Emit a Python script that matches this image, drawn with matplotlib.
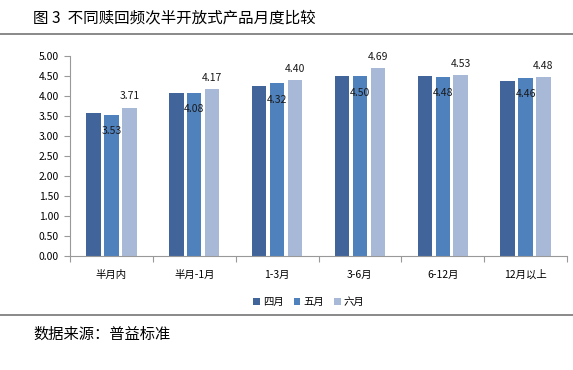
import matplotlib
matplotlib.use("Agg")
import matplotlib.pyplot as plt
from matplotlib.lines import Line2D
import numpy as np

plt.rcParams['font.family'] = ['Noto Sans CJK SC', 'DejaVu Sans']

categories = ["半月内", "半月-1月", "1-3月", "3-6月", "6-12月", "12月以上"]
series = ["四月", "五月", "六月"]
april = [3.58, 4.07, 4.26, 4.50, 4.49, 4.37]
may = [3.53, 4.08, 4.32, 4.50, 4.48, 4.46]
june = [3.71, 4.17, 4.40, 4.69, 4.53, 4.48]
yticks = [0, 0.5, 1.0, 1.5, 2.0, 2.5, 3.0, 3.5, 4.0, 4.5, 5.0]

colors = ["#41659A", "#4F81BD", "#A8B9D8"]

W, H = 573, 370
fig = plt.figure(figsize=(W / 100, H / 100), dpi=100)
ax = fig.add_axes([70 / W, (H - 256) / H, (567 - 70) / W, 200 / H])

x = np.arange(len(categories))
step = 0.217
bw = 0.175
for i, (vals, name) in enumerate(zip([april, may, june], series)):
    ax.bar(x + (i - 1) * step, vals, width=bw, color=colors[i], label=name, zorder=2)

for xi, v in zip(x, may):
    ax.annotate("%.2f" % v, (xi, v), xytext=(0, -12), textcoords="offset points",
                ha="center", va="center", fontsize=7.5, color="#1a1a1a")
for xi, v in zip(x, june):
    ax.annotate("%.2f" % v, (xi + step, v), xytext=(0, 8), textcoords="offset points",
                ha="center", va="center", fontsize=7.5, color="#1a1a1a")

ax.set_xlim(-0.5, len(categories) - 0.5)
ax.set_ylim(0, 5)
ax.set_yticks(yticks)
ax.set_yticklabels(["%.2f" % t for t in yticks], fontsize=7.5)
ax.set_xticks(np.arange(len(categories) + 1) - 0.5)
ax.set_xticklabels([])
ax.set_xticks(x, minor=True)
ax.set_xticklabels(categories, minor=True, fontsize=7.5)
ax.tick_params(axis="x", which="minor", length=0, pad=10)
ax.tick_params(axis="x", which="major", length=4, color="#999999", direction="out")
ax.tick_params(axis="y", length=4, color="#999999", pad=4)
for s in ["top", "right"]:
    ax.spines[s].set_visible(False)
for s in ["left", "bottom"]:
    ax.spines[s].set_color("#999999")
    ax.spines[s].set_linewidth(0.8)

fig.legend(loc="center", bbox_to_anchor=(309 / W, 1 - 302 / H), ncol=3, frameon=False,
           fontsize=7.5, handlelength=0.6, handleheight=0.6, handletextpad=0.3,
           columnspacing=1.0)

fig.text(33 / W, 1 - 18 / H, "图 3  不同赎回频次半开放式产品月度比较", fontsize=11.2,
         va="center", ha="left")
fig.add_artist(Line2D([0, 1], [1 - 34 / H] * 2, color="#808080", lw=1.3, transform=fig.transFigure))
fig.add_artist(Line2D([0, 1], [1 - 315 / H] * 2, color="#808080", lw=1.3, transform=fig.transFigure))
fig.text(33 / W, 1 - 334 / H, "数据来源：普益标准", fontsize=11, va="center", ha="left")

fig.savefig("out.png", dpi=100)
